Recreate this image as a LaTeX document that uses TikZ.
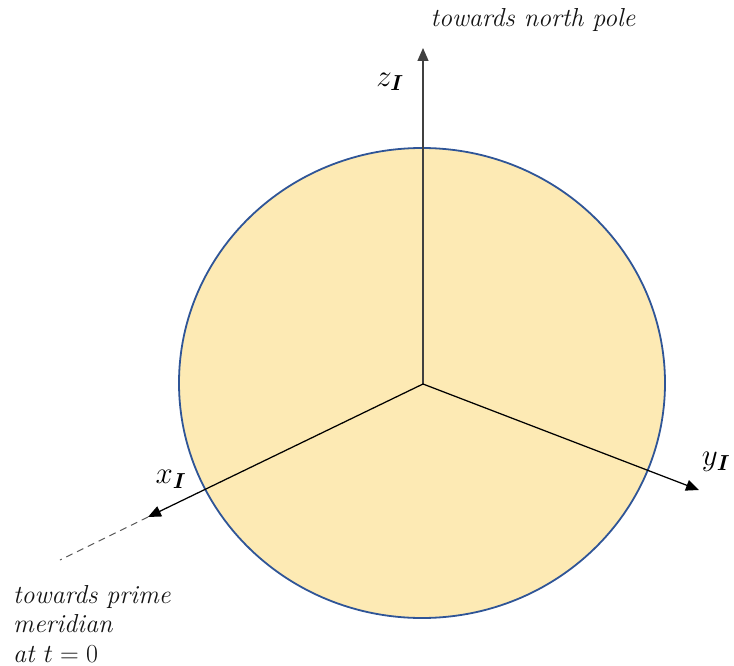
\RequirePackage{fix-cm}
\documentclass[tikz,border=0pt]{standalone}
\usepackage{amsmath}
\usepackage{fontspec}
\usetikzlibrary{arrows.meta,shapes.geometric}
\definecolor{earthfill}{HTML}{FDEAB4}
\definecolor{earthline}{HTML}{2F5597}
\definecolor{dashgray}{HTML}{595959}
\tikzset{
  earth/.style={ellipse, draw=earthline, fill=earthfill, line width=1.8pt, inner sep=0pt},
  axis/.style={line width=1.25pt, -{Triangle[length=13pt,width=11pt]}},
  axlabel/.style={inner sep=0pt, font=\fontsize{31}{36}\selectfont},
  note/.style={inner sep=0pt, font=\fontsize{26}{29.5}\selectfont\itshape\addfontfeature{LetterSpace=4}, text=black!92},
}
\begin{document}
\begin{tikzpicture}[x=1pt,y=-1pt]
\useasboundingbox (0,0) rectangle (734,666);
\node[earth, minimum width=486pt, minimum height=470pt] (earth) at (422,383) {};
\coordinate (O) at (423,384);
\coordinate (zt) at (423,48);
\coordinate (xt) at (148,517);
\coordinate (yt) at (699,490);
\coordinate (xd) at (60,560);
\draw[axis, draw=black!75] (O) -- (zt);
\draw[axis] (O) -- (xt);
\draw[axis] (O) -- (yt);
\draw[dashgray, line width=1pt, dash pattern=on 7pt off 5pt] (xt) -- (xd);
\node[axlabel] (zl) at (390,82) {$z_{\boldsymbol{I}}$};
\node[axlabel] (xl) at (171,479) {$x_{\boldsymbol{I}}$};
\node[axlabel] (yl) at (716,462) {$y_{\boldsymbol{I}}$};
\node[note, anchor=base] (np) at (533,27) {towards north pole};
\node[note, anchor=base west, align=left] (pm) at (13,662) {towards prime\\meridian\\at $t=0$};
\end{tikzpicture}
\end{document}
